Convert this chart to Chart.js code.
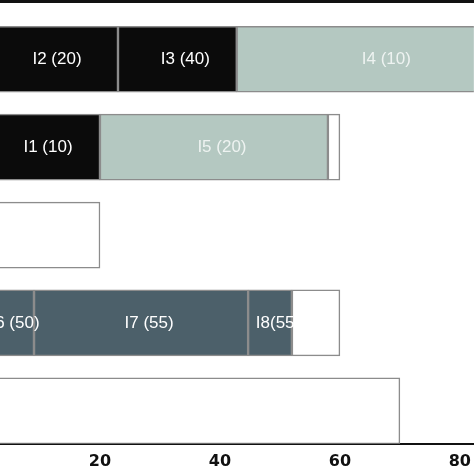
<!DOCTYPE html>
<html>
<head>
<meta charset="utf-8">
<script src="https://cdn.jsdelivr.net/npm/chart.js@4"></script>
<style>
  html, body { margin: 0; padding: 0; background: #fff; }
  #wrap { width: 474px; height: 471px; border-top: 3px solid #111; position: relative; }
</style>
</head>
<body>
<div id="wrap"><canvas id="ganttChart"></canvas></div>
<script>
/* ============================================================
   DATOS: segmentos por fila (inicio, fin, etiqueta, color)
============================================================ */

const filas       = [1, 2, 3, 4, 5];
const segFila     = [1, 1, 1, 2, 2, 2, 3, 4, 4, 4, 4, 5];
const segInicio   = [0, 23, 42.8, 0, 20, 58, 0, 0, 9, 44.7, 52, 0];
const segFin      = [23, 42.8, 90, 20, 58, 60, 20, 9, 44.7, 52, 60, 70];
const segEtiqueta = ["I2 (20)", "I3 (40)", "I4 (10)", "I1 (10)", "I5 (20)", "", "", "I6 (50)", "I7 (55)", "I8(55)", "", ""];
const segTipo     = ["negro", "negro", "claro", "negro", "claro", "vacio", "vacio", "oscuro", "oscuro", "oscuro", "vacio", "vacio"];
const xTicks      = [20, 40, 60, 80];

const colores = { negro: "#0b0b0b", claro: "#b4c8c1", oscuro: "#4c606a", vacio: "#ffffff" };
const colorTexto = { negro: "#ffffff", claro: "#eef3f1", oscuro: "#ffffff", vacio: "#000" };

/* ============================================================
   ETIQUETAS DENTRO DE LAS BARRAS
============================================================ */

const etiquetas = {
    id: "etiquetas",
    afterDatasetsDraw(chart) {
        const ctx = chart.ctx;
        const meta = chart.getDatasetMeta(0);
        ctx.save();
        ctx.beginPath();
        ctx.rect(chart.chartArea.left, chart.chartArea.top, chart.chartArea.right - chart.chartArea.left, chart.chartArea.bottom - chart.chartArea.top);
        ctx.clip();
        ctx.font = "17px 'Liberation Sans', Arial, sans-serif";
        ctx.textAlign = "center";
        ctx.textBaseline = "middle";
        meta.data.forEach((bar, i) => {
            if (!segEtiqueta[i]) return;
            const p = bar.getProps(["x", "base", "y"], true);
            ctx.fillStyle = colorTexto[segTipo[i]];
            ctx.fillText(segEtiqueta[i], (p.x + p.base) / 2 + 8, p.y);
        });
        ctx.restore();
    }
};

new Chart(document.getElementById("ganttChart"), {
    type: "bar",
    data: {
        datasets: [{
            data: segFila.map((f, i) => ({ y: f, x: [segInicio[i], segFin[i]] })),
            backgroundColor: segTipo.map(t => colores[t]),
            borderColor: "#8c8c8c",
            borderWidth: 1.5,
            borderSkipped: false,
            barThickness: 66
        }]
    },
    plugins: [etiquetas],
    options: {
        indexAxis: "y",
        responsive: true,
        maintainAspectRatio: false,
        animation: false,
        layout: { padding: 0 },
        plugins: { legend: { display: false }, tooltip: { enabled: false } },
        scales: {
            x: {
                type: "linear",
                min: 3.33,
                max: 82.33,
                afterBuildTicks: axis => { axis.ticks = xTicks.map(v => ({ value: v })); },
                grid: { display: false, drawOnChartArea: false, drawTicks: true, tickLength: 5, color: "#111", tickWidth: 2 },
                border: { display: true, color: "#111", width: 2 },
                ticks: { color: "#111", padding: 3, maxRotation: 0, font: { size: 16, weight: "bold", family: "'DejaVu Sans', sans-serif" } }
            },
            y: {
                type: "linear",
                reverse: true,
                offset: false,
                min: 0.36,
                max: 5.375,
                display: false
            }
        }
    }
});
</script>
</body>
</html>
